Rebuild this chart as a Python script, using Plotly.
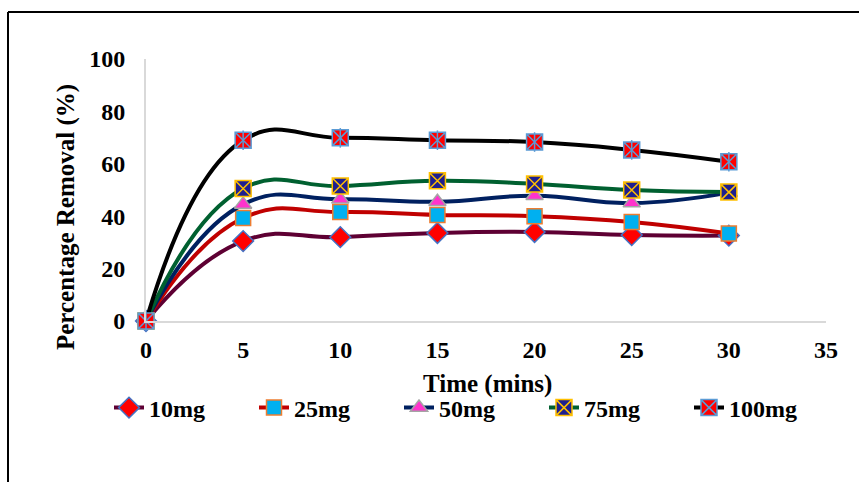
import plotly.graph_objects as go

time = [0, 5, 10, 15, 20, 25, 30]
m10 = [0, 30.5, 32.0, 33.6, 34.0, 32.8, 32.6]
m25 = [0, 39.3, 41.6, 40.5, 40.0, 37.8, 33.4]
m50 = [0, 44.5, 46.5, 45.5, 47.8, 45.0, 49.0]
m75 = [0, 50.6, 51.5, 53.5, 52.3, 50.0, 49.2]
m100 = [0, 69.0, 69.9, 69.0, 68.3, 65.3, 60.8]
names = ["10mg", "25mg", "50mg", "75mg", "100mg"]
x_ticks = [0, 5, 10, 15, 20, 25, 30, 35]
y_ticks = [0, 20, 40, 60, 80, 100]

FONT = "Liberation Serif"
series = [
    (m10, "#5E0033", dict(symbol="diamond", size=16, color="#FF0000", line=dict(color="#4472C4", width=1.5))),
    (m25, "#C00000", dict(symbol="square", size=15, color="#00B0F0", line=dict(color="#ED7D31", width=1.5))),
    (m50, "#002060", dict(symbol="triangle-up", size=15, color="#FF33CC", line=dict(color="#A5A5A5", width=1.5))),
    (m75, "#006030", dict(symbol="square-x", size=16, color="#1F1F8F", line=dict(color="#FFC000", width=1.5))),
    (m100, "#000000", dict(symbol="square-x", size=16, color="#FF0000", line=dict(color="#5B9BD5", width=1.5))),
]

fig = go.Figure()
for name, (vals, col, mk) in zip(names, series):
    fig.add_trace(go.Scatter(x=time, y=vals, name=name, mode="lines+markers", cliponaxis=False,
                             line=dict(color=col, width=4, shape="spline", smoothing=1.3),
                             marker=mk))
# vertical stroke to make asterisk on 100mg markers
fig.add_trace(go.Scatter(x=time, y=m100, mode="markers", showlegend=False, hoverinfo="skip",
                         cliponaxis=False,
                         marker=dict(symbol="line-ns", size=14, line=dict(color="#5B9BD5", width=1.5))))

L, R, T, B = 146, 33, 59, 161
W, H = 859, 482
pw, ph = W - L - R, H - T - B

def px(x):
    return (x - L) / pw

def py(y):
    return (H - B - y) / ph

fig.update_layout(
    width=W, height=H,
    margin=dict(l=L, r=R, t=T, b=B),
    plot_bgcolor="white", paper_bgcolor="white",
    font=dict(family=FONT, size=24, color="black", weight="bold"),
    showlegend=True,
    legend=dict(orientation="h", x=px(109), y=py(408), yanchor="middle", xanchor="left",
                font=dict(family=FONT, size=24, weight="bold"),
                entrywidth=100, entrywidthmode="pixels", tracegroupgap=0,
                bgcolor="rgba(0,0,0,0)"),
    xaxis=dict(range=[0, 35], tickvals=x_ticks, showgrid=False, zeroline=False,
               showline=True, linecolor="#D9D9D9", linewidth=2,
               ticks="", ticklabelstandoff=6,
               tickfont=dict(family=FONT, size=24, weight="bold")),
    yaxis=dict(range=[0, 100], tickvals=y_ticks, showgrid=False, zeroline=False,
               showline=True, linecolor="#D9D9D9", linewidth=2,
               ticks="", ticklabelstandoff=14,
               tickfont=dict(family=FONT, size=24, weight="bold")),
    annotations=[
        dict(text="Time (mins)", xref="paper", yref="paper", x=px(487), y=py(384),
             xanchor="center", yanchor="middle",
             showarrow=False, font=dict(family=FONT, size=25, weight="bold")),
        dict(text="Percentage Removal (%)", xref="paper", yref="paper", x=px(66), y=py(217),
             xanchor="center", yanchor="middle",
             textangle=-90, showarrow=False, font=dict(family=FONT, size=25, weight="bold")),
    ],
    shapes=[
        dict(type="line", xref="paper", yref="paper", x0=px(8), x1=px(8), y0=py(12), y1=py(490),
             line=dict(color="black", width=2)),
        dict(type="line", xref="paper", yref="paper", x0=px(8), x1=px(870), y0=py(12), y1=py(12),
             line=dict(color="black", width=2)),
    ],
)

fig.write_html("out.html")
